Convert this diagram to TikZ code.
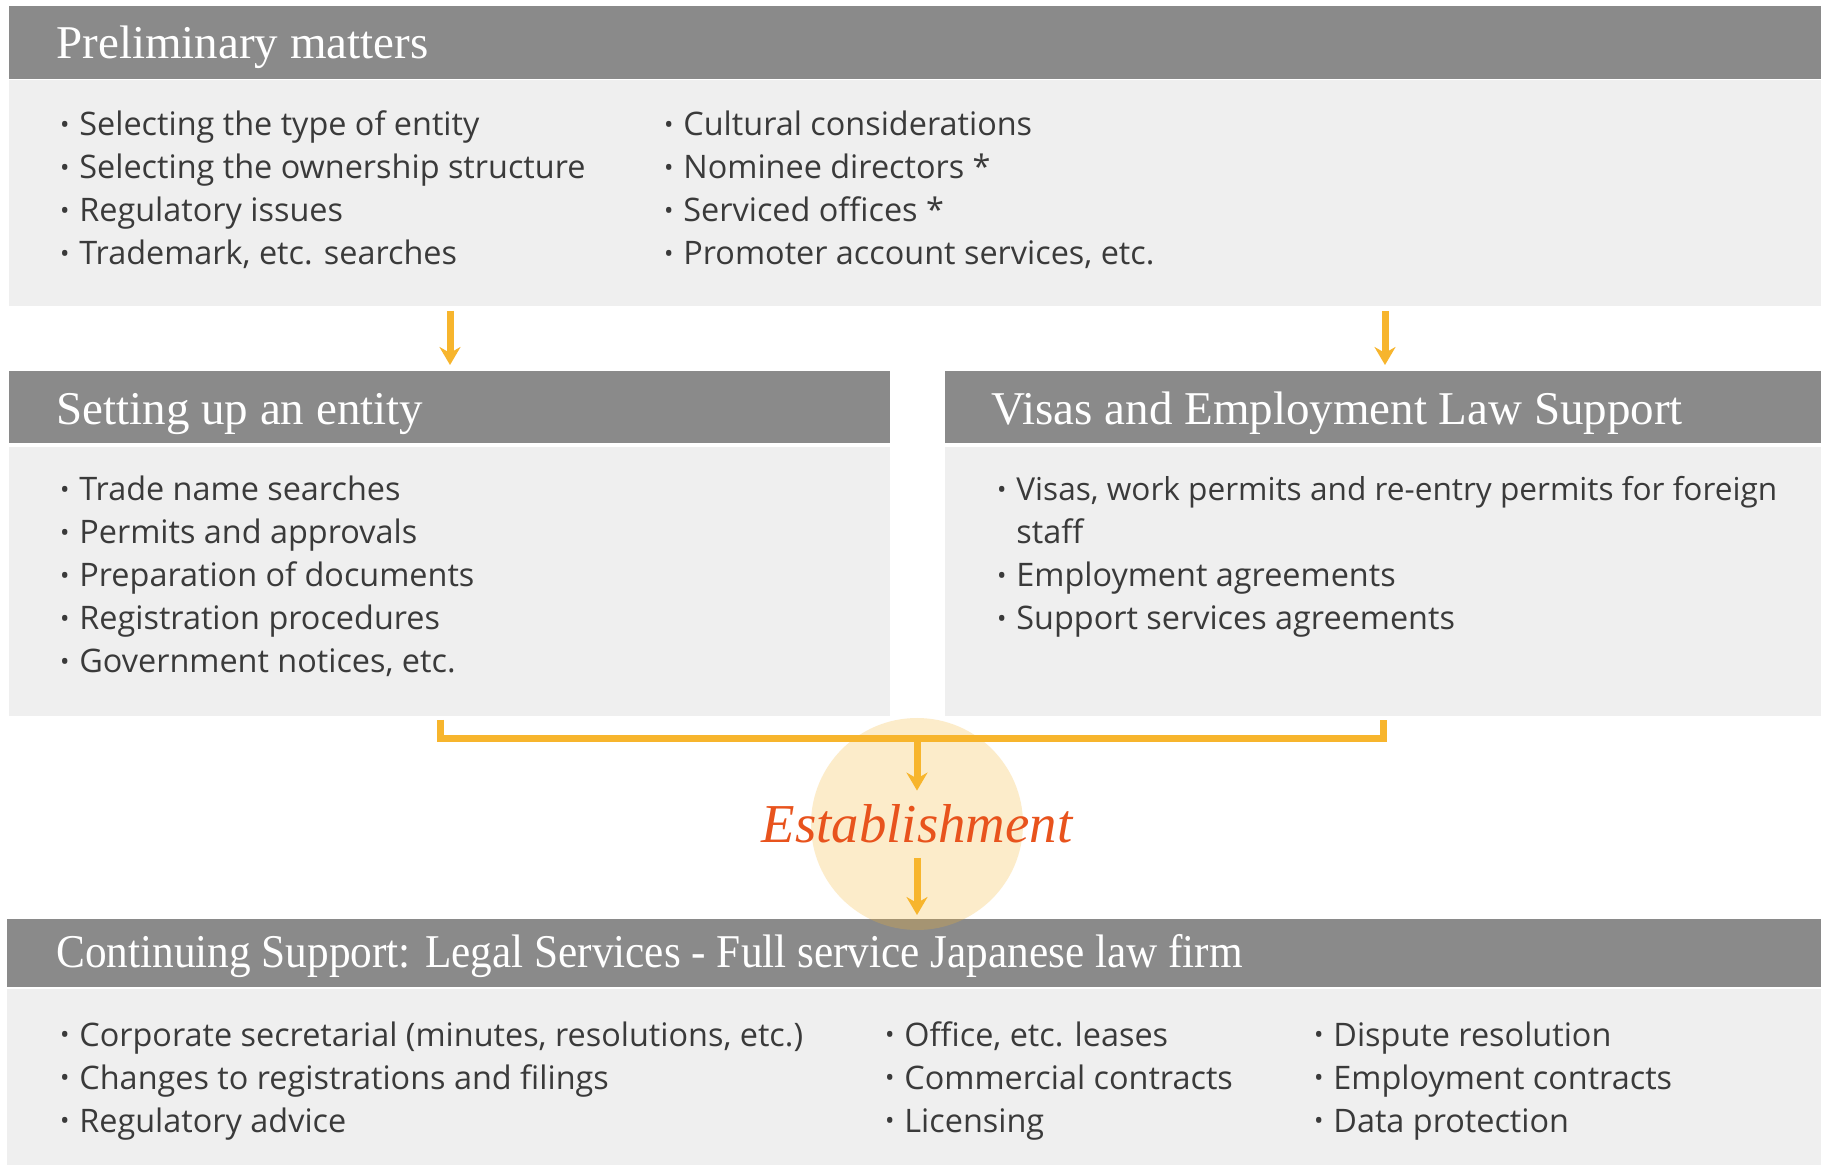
\documentclass[tikz,border=0pt]{standalone}
\usepackage{fontspec}
\setmainfont{Open Sans}
\newfontfamily\hfont{Liberation Serif}
\newfontfamily\hfontc[FakeStretch=0.92]{Liberation Serif}
\usetikzlibrary{arrows.meta}
\definecolor{hdr}{HTML}{8A8A8A}
\definecolor{bdy}{HTML}{EFEFEF}
\definecolor{txt}{HTML}{3A3A3A}
\definecolor{arrc}{HTML}{F7B52D}
\definecolor{estc}{HTML}{E8531D}
\newcommand\itembul{\llap{\raisebox{1.4pt}{\fontsize{12.5}{12.5}\selectfont •}\hspace{5pt}}}
\tikzset{
  hdrbox/.style={fill=hdr, draw=none, anchor=north west, inner sep=0pt, outer sep=0pt},
  bdybox/.style={fill=bdy, draw=none, anchor=north west, inner sep=0pt, outer sep=0pt},
  ttl/.style={anchor=base west, inner sep=0pt, text=white, font=\hfont\fontsize{23.5}{28}\selectfont},
  item/.style={anchor=base west, inner sep=0pt, text=txt, font=\fontsize{16.2}{19}\selectfont},
  arr/.style={draw=arrc, line width=3.5pt, -{Stealth[length=9pt,width=10.5pt,inset=3pt]}},
  brk/.style={draw=arrc, line width=3.5pt},
}
\begin{document}
\begin{tikzpicture}[x=0.5pt,y=-0.5pt]
\useasboundingbox (0,0) rectangle (1821,1165);
\fill[white] (0,0) rectangle (1821,1165);
% boxes
\node[hdrbox, minimum width=906pt, minimum height=36.5pt] (h1) at (9,6) {};
\node[bdybox, minimum width=906pt, minimum height=113pt] (b1) at (9,80) {};
\node[hdrbox, minimum width=440.5pt, minimum height=36pt] (h2) at (9,371) {};
\node[bdybox, minimum width=440.5pt, minimum height=134.5pt] (b2) at (9,447) {};
\node[hdrbox, minimum width=438pt, minimum height=36pt] (h3) at (945,371) {};
\node[bdybox, minimum width=438pt, minimum height=134.5pt] (b3) at (945,447) {};
\node[hdrbox, minimum width=907pt, minimum height=34pt] (h4) at (7,919) {};
\node[bdybox, minimum width=907pt, minimum height=88pt] (b4) at (7,989) {};
% titles
\node[ttl] (t1) at (56,59) {Preliminary matters};
\node[ttl] (t2) at (56,425) {Setting up an entity};
\node[ttl] (t3) at (991,425) {Visas and Employment Law Support};
\node[ttl, font=\hfontc\fontsize{23.5}{28}\selectfont] (t4) at (56,967) {Continuing Support: Legal Services - Full service Japanese law firm};
% items
\foreach \t [count=\i] in {Selecting the type of entity, Selecting the ownership structure, Regulatory issues, {Trademark, etc. searches}}
  \node[item] (pa\i) at (79,{136+43*(\i-1)}) {\itembul\t};
\foreach \t [count=\i] in {Cultural considerations, Nominee directors *, Serviced offices *, {Promoter account services, etc.}}
  \node[item] (pb\i) at (683,{136+43*(\i-1)}) {\itembul\t};
\foreach \t [count=\i] in {Trade name searches, Permits and approvals, Preparation of documents, Registration procedures, {Government notices, etc.}}
  \node[item] (sa\i) at (79,{501+43*(\i-1)}) {\itembul\t};
\node[item, font=\fontsize{15.8}{19}\selectfont] (va1) at (1016,501) {\itembul Visas, work permits and re-entry permits for foreign};
\node[item] (va2) at (1016,544) {staff};
\node[item] (va3) at (1016,587) {\itembul Employment agreements};
\node[item] (va4) at (1016,630) {\itembul Support services agreements};
\foreach \t [count=\i] in {{Corporate secretarial (minutes, resolutions, etc.)}, Changes to registrations and filings, Regulatory advice}
  \node[item] (ca\i) at (79,{1046+43*(\i-1)}) {\itembul\t};
\foreach \t [count=\i] in {{Office, etc. leases}, Commercial contracts, Licensing}
  \node[item] (cb\i) at (904,{1046+43*(\i-1)}) {\itembul\t};
\foreach \t [count=\i] in {Dispute resolution, Employment contracts, Data protection}
  \node[item] (cc\i) at (1333,{1046+43*(\i-1)}) {\itembul\t};
% glow
\node[circle, fill=arrc, fill opacity=0.25, draw=none, minimum size=106pt, inner sep=0pt] (glow) at (917,824) {};
% establishment
\node[anchor=base, inner sep=0pt, text=estc, font=\hfont\itshape\fontsize{27.4}{32}\selectfont] (est) at (917,842) {Establishment};
% connectors
\draw[arr, shorten <=2.5pt, shorten >=3pt] ([xshift=-232.5pt]b1.south) -- ([xshift=-232.5pt]b1.south |- h2.north);
\draw[arr, shorten <=2.5pt, shorten >=3pt] ([xshift=235pt]b1.south) -- ([xshift=235pt]b1.south |- h3.north);
\coordinate (jn) at (917,738);
\draw[brk] ([xshift=-4.75pt, yshift=-2pt]b2.south) -- ++(0,18) -| ([yshift=-2pt]b3.south);
\draw[arr, shorten >=6.5pt] (jn) -- (jn |- est.north);
\draw[arr, shorten <=7.5pt, shorten >=2pt] (jn |- est.south) -- (jn |- h4.north);
\end{tikzpicture}
\end{document}
